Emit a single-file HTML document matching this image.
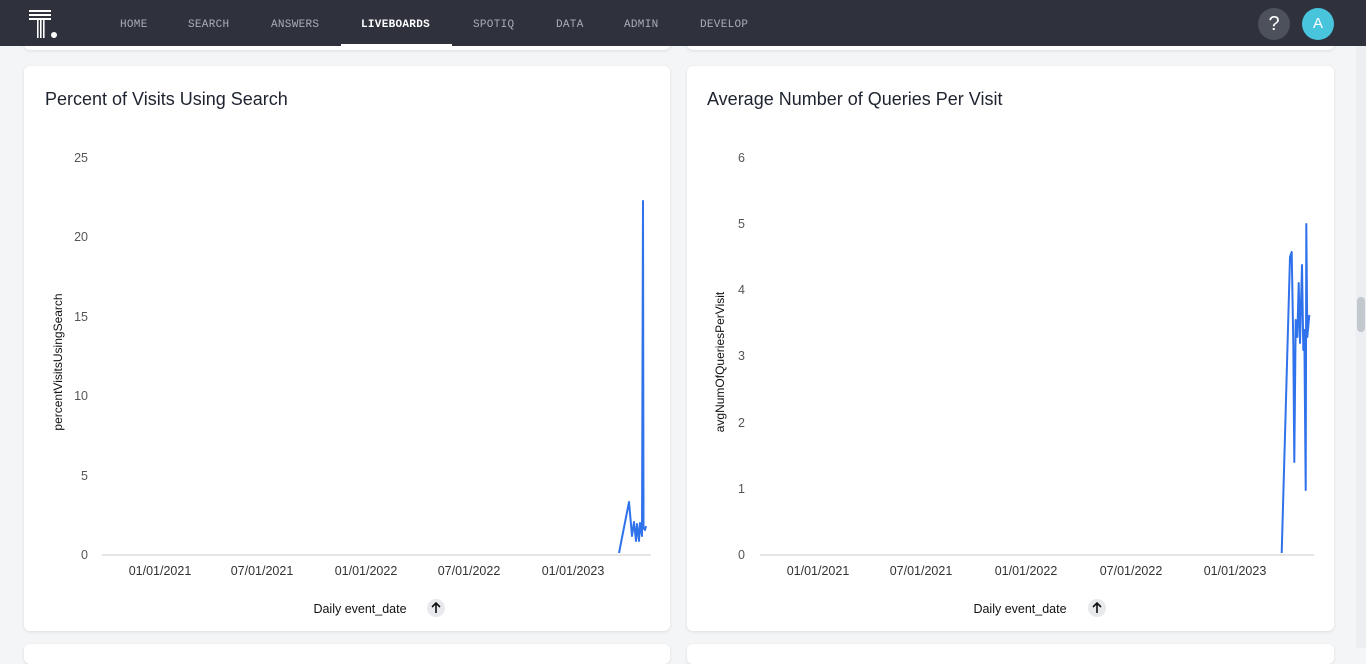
<!DOCTYPE html>
<html><head><meta charset="utf-8"><style>
*{margin:0;padding:0;box-sizing:border-box}
body{width:1366px;height:648px;overflow:hidden;background:#f4f5f7;font-family:"Liberation Sans",sans-serif;position:relative}
.nav{position:absolute;left:0;top:0;width:1366px;height:46px;background:#2f323c}
.nav span{position:absolute;top:19px;font-family:"Liberation Mono",monospace;font-size:11px;color:#a9adb7;letter-spacing:0.3px}
.card{position:absolute;background:#fff;border-radius:6px;box-shadow:0 1px 3px rgba(0,0,0,0.1)}
.t{position:absolute;font-size:18px;color:#1d232f}
</style></head><body>
<div class="card" style="left:24px;top:30px;width:646px;height:20px"></div>
<div class="card" style="left:687px;top:30px;width:647px;height:20px"></div>
<div class="card" style="left:24px;top:644px;width:646px;height:20px"></div>
<div class="card" style="left:687px;top:644px;width:647px;height:20px"></div>
<div class="nav">
<svg style="position:absolute;left:29px;top:10px" width="32" height="30"><g fill="#fff"><rect x="0" y="0" width="22" height="2"/><rect x="0" y="4" width="22" height="2"/><rect x="0" y="8" width="22" height="2"/><rect x="8" y="8" width="1.6" height="20"/><rect x="11" y="8" width="1.6" height="20"/><rect x="14" y="8" width="1.6" height="20"/><circle cx="25" cy="25" r="3"/></g></svg>
<span style="left:120px">HOME</span><span style="left:188px">SEARCH</span><span style="left:271px">ANSWERS</span>
<span style="left:361px;color:#fff;font-weight:bold">LIVEBOARDS</span>
<span style="left:473px">SPOTIQ</span><span style="left:556px">DATA</span><span style="left:624px">ADMIN</span><span style="left:700px">DEVELOP</span>
<div style="position:absolute;left:341px;top:44px;width:111px;height:2px;background:#fff"></div>
<div style="position:absolute;left:1258px;top:8px;width:32px;height:32px;border-radius:50%;background:#4d515c;color:#fff;font-size:20px;text-align:center;line-height:32px">?</div>
<div style="position:absolute;left:1302px;top:8px;width:32px;height:32px;border-radius:50%;background:#48c4dc;color:#fff;font-size:15px;text-align:center;line-height:32px">A</div>
</div>
<div style="position:absolute;left:1356px;top:46px;width:10px;height:602px;background:#eceef1"></div>
<div style="position:absolute;left:1357px;top:297px;width:8px;height:35px;border-radius:4px;background:#c3c7ce"></div>
<div class="card" style="left:24px;top:66px;width:646px;height:565px"></div>
<div class="card" style="left:687px;top:66px;width:647px;height:565px"></div>
<div class="t" style="left:45px;top:89px">Percent of Visits Using Search</div>
<div class="t" style="left:707px;top:89px">Average Number of Queries Per Visit</div>
<svg style="position:absolute;left:0;top:0" width="1366" height="648" font-family="Liberation Sans, sans-serif" font-size="12.5" fill="#555">
<g text-anchor="end">
<text x="88" y="162">25</text><text x="88" y="241">20</text><text x="88" y="321">15</text><text x="88" y="400">10</text><text x="88" y="480">5</text><text x="88" y="559">0</text>
<text x="745" y="162">6</text><text x="745" y="228">5</text><text x="745" y="294">4</text><text x="745" y="360">3</text><text x="745" y="427">2</text><text x="745" y="493">1</text><text x="745" y="559">0</text>
</g>
<line x1="102" y1="555" x2="651" y2="555" stroke="#ddd" stroke-width="1.5"/>
<line x1="760" y1="555" x2="1314" y2="555" stroke="#ddd" stroke-width="1.5"/>
<g text-anchor="middle" fill="#333">
<text x="160" y="575">01/01/2021</text><text x="262" y="575">07/01/2021</text><text x="366" y="575">01/01/2022</text><text x="469" y="575">07/01/2022</text><text x="573" y="575">01/01/2023</text>
<text x="818" y="575">01/01/2021</text><text x="921" y="575">07/01/2021</text><text x="1026" y="575">01/01/2022</text><text x="1131" y="575">07/01/2022</text><text x="1235" y="575">01/01/2023</text>
<text x="360" y="613" fill="#111">Daily event_date</text><text x="1020" y="613" fill="#111">Daily event_date</text>
</g>
<circle cx="436" cy="608" r="9" fill="#e8e9ec"/><path d="M436 613V603M432 607L436 603L440 607" stroke="#111" stroke-width="1.6" fill="none"/>
<circle cx="1097" cy="608" r="9" fill="#e8e9ec"/><path d="M1097 613V603M1093 607L1097 603L1101 607" stroke="#111" stroke-width="1.6" fill="none"/>
<text transform="translate(62,362) rotate(-90)" text-anchor="middle" fill="#111" font-size="12">percentVisitsUsingSearch</text>
<text transform="translate(724,362) rotate(-90)" text-anchor="middle" fill="#111" font-size="12">avgNumOfQueriesPerVisit</text>
<g fill="none" stroke="#2f72eb" stroke-width="2" stroke-linejoin="round">
<polyline points="619,553 629,502 632,536 634,522 636,541 637,524 639,541 640,523 642,536 643,201 643.5,528 645,530 646,526"/>
<polyline points="1281.7,553 1290,257 1291.7,252 1293.3,343 1294.3,462 1295.7,320 1297.3,337 1298.7,283 1300,343 1302,265 1303.3,350 1304.3,330 1305.7,490 1306.3,224 1307.3,337 1309.3,315"/>
</g>
</svg>
</body></html>
